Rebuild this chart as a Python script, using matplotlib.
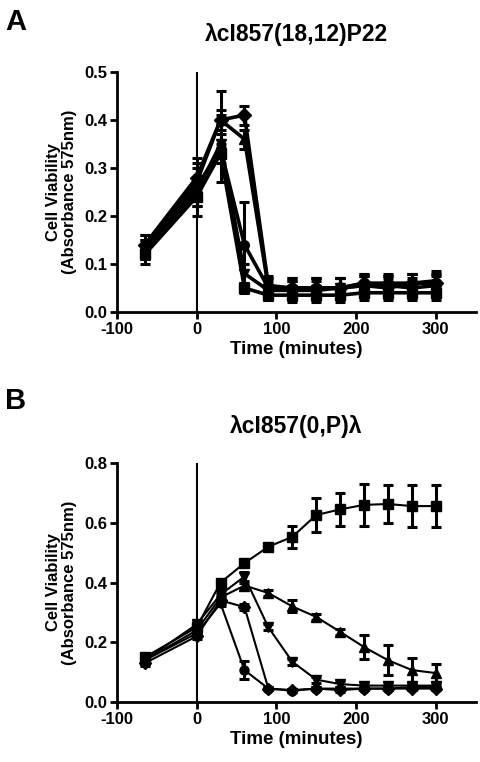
import numpy as np
import matplotlib.pyplot as plt

plt.rcParams['font.family'] = ['Liberation Sans', 'DejaVu Sans']
plt.rcParams['font.weight'] = 'bold'
plt.rcParams['axes.unicode_minus'] = False

time = [-65, 0, 30, 60, 90, 120, 150, 180, 210, 240, 270, 300]
markers = ['s', '^', 'v', 'D', 'o']

# panel A: lambda cI857(18,12)P22
a_square = [0.12, 0.24, 0.33, 0.05, 0.035, 0.035, 0.035, 0.035, 0.04, 0.04, 0.04, 0.04]
a_tri_up = [0.14, 0.27, 0.40, 0.36, 0.05, 0.045, 0.05, 0.05, 0.055, 0.05, 0.06, 0.065]
a_tri_down = [0.13, 0.25, 0.35, 0.08, 0.045, 0.045, 0.045, 0.05, 0.055, 0.055, 0.05, 0.055]
a_diamond = [0.14, 0.28, 0.40, 0.41, 0.055, 0.05, 0.05, 0.05, 0.06, 0.055, 0.06, 0.06]
a_circle = [0.13, 0.26, 0.34, 0.14, 0.05, 0.05, 0.05, 0.05, 0.06, 0.06, 0.06, 0.06]

a_square_err = [0.02, 0.02, 0.02, 0.01, 0.01, 0.015, 0.015, 0.015, 0.015, 0.015, 0.015, 0.015]
a_tri_up_err = [0.02, 0.03, 0.06, 0.02, 0.02, 0.02, 0.02, 0.02, 0.02, 0.02, 0.02, 0.02]
a_tri_down_err = [0.02, 0.03, 0.02, 0.02, 0.02, 0.02, 0.02, 0.02, 0.02, 0.02, 0.02, 0.02]
a_diamond_err = [0.02, 0.03, 0.02, 0.02, 0.02, 0.02, 0.02, 0.02, 0.02, 0.02, 0.02, 0.02]
a_circle_err = [0.02, 0.06, 0.07, 0.09, 0.02, 0.02, 0.02, 0.02, 0.02, 0.02, 0.02, 0.02]

# panel B: lambda cI857(0,P)lambda
b_square = [0.15, 0.25, 0.40, 0.465, 0.52, 0.553, 0.626, 0.645, 0.66, 0.663, 0.656, 0.656]
b_tri_up = [0.14, 0.24, 0.35, 0.39, 0.365, 0.32, 0.285, 0.235, 0.184, 0.14, 0.107, 0.097]
b_tri_down = [0.14, 0.26, 0.36, 0.42, 0.25, 0.135, 0.075, 0.06, 0.055, 0.055, 0.055, 0.055]
b_diamond = [0.13, 0.22, 0.34, 0.318, 0.045, 0.04, 0.045, 0.04, 0.045, 0.045, 0.045, 0.045]
b_circle = [0.14, 0.23, 0.33, 0.107, 0.045, 0.038, 0.045, 0.045, 0.045, 0.045, 0.05, 0.05]

b_square_err = [0.01, 0.01, 0.01, 0.01, 0.01, 0.037, 0.057, 0.055, 0.07, 0.065, 0.07, 0.07]
b_tri_up_err = [0.01, 0.01, 0.01, 0.01, 0.01, 0.02, 0.01, 0.01, 0.04, 0.05, 0.042, 0.03]
b_tri_down_err = [0.01, 0.01, 0.01, 0.015, 0.01, 0.01, 0.01, 0.01, 0.01, 0.01, 0.01, 0.01]
b_diamond_err = [0.01, 0.01, 0.01, 0.01, 0.005, 0.005, 0.005, 0.005, 0.005, 0.005, 0.005, 0.005]
b_circle_err = [0.01, 0.01, 0.01, 0.03, 0.005, 0.005, 0.005, 0.005, 0.005, 0.005, 0.005, 0.005]

panels = [
    ('A', '\u03bbcI857(18,12)P22', 0.5, 0.1,
     [a_square, a_tri_up, a_tri_down, a_diamond, a_circle],
     [a_square_err, a_tri_up_err, a_tri_down_err, a_diamond_err, a_circle_err], 2.6, 7),
    ('B', '\u03bbcI857(0,P)\u03bb', 0.8, 0.2,
     [b_square, b_tri_up, b_tri_down, b_diamond, b_circle],
     [b_square_err, b_tri_up_err, b_tri_down_err, b_diamond_err, b_circle_err], 1.5, 6.5),
]

fig = plt.figure(figsize=(4.81, 7.62), dpi=100)
axes_pos = [[0.243, 0.5906, 0.746, 0.315], [0.243, 0.0787, 0.746, 0.3136]]
letter_y = [0.99, 0.492]

for i, (letter, title, ymax, ystep, series, errs, lw, ms) in enumerate(panels):
    ax = fig.add_axes(axes_pos[i])
    ax.axvline(0, color='black', lw=1.5, zorder=1)
    for vals, err, m in zip(series, errs, markers):
        ax.errorbar(time, vals, yerr=err, color='black', marker=m, ms=ms,
                    lw=lw, elinewidth=2.2, capsize=3.5, capthick=2.2, zorder=3)
    ax.set_xlim(-100, 350)
    ax.set_ylim(0, ymax)
    ax.set_xticks([-100, 0, 100, 200, 300])
    ax.set_yticks(np.arange(0, ymax + ystep / 2, ystep))
    ax.yaxis.set_major_formatter(plt.FormatStrFormatter('%.1f'))
    ax.spines['top'].set_visible(False)
    ax.spines['right'].set_visible(False)
    ax.spines['left'].set_linewidth(2)
    ax.spines['bottom'].set_linewidth(2)
    ax.tick_params(width=2, length=5, labelsize=12, pad=2)
    for lab in ax.get_xticklabels() + ax.get_yticklabels():
        lab.set_fontweight('bold')
    ax.set_xlabel('Time (minutes)', fontsize=13.5, fontweight='bold', labelpad=3)
    ax.set_ylabel('Cell Viability\n(Absorbance 575nm)', fontsize=12,
                  fontweight='bold', linespacing=1.1)
    ax.yaxis.set_label_coords(-0.11, 0.5)
    ax.set_title(title, fontsize=16.5, fontweight='bold', pad=22)
    fig.text(0.01, letter_y[i], letter, fontsize=21, fontweight='bold', va='top')

fig.savefig('out.png', dpi=100)
